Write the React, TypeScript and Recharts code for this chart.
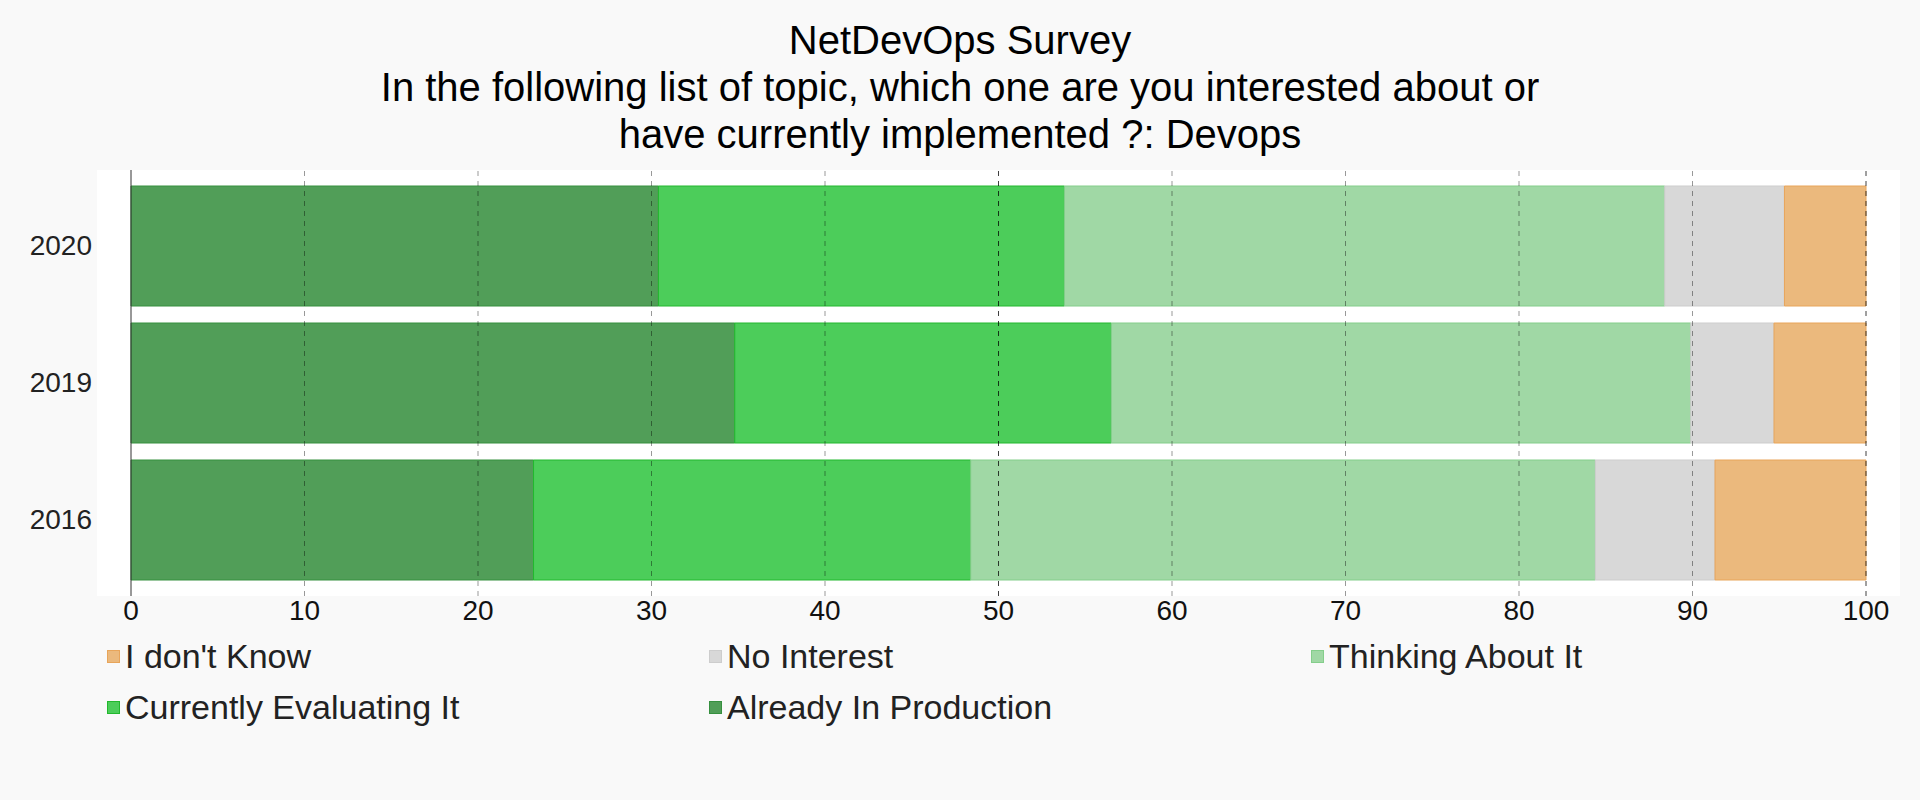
import React from "react";
import { BarChart, Bar, XAxis, YAxis, CartesianGrid, ReferenceLine } from "recharts";

const years = ["2020", "2019", "2016"];
const alreadyInProduction = [30.4, 34.8, 23.2];
const currentlyEvaluating = [23.4, 21.7, 25.2];
const thinkingAboutIt = [34.6, 33.4, 36.0];
const noInterest = [6.9, 4.8, 6.9];
const dontKnow = [4.7, 5.3, 8.7];
const xTicks = [0, 10, 20, 30, 40, 50, 60, 70, 80, 90, 100];

const titleLines = [
  "NetDevOps Survey",
  "In the following list of topic, which one are you interested about or",
  "have currently implemented ?: Devops",
];

// stacking order, left to right
const series = [
  { key: "prod", name: "Already In Production", fill: "#519e58", stroke: "#36903f" },
  { key: "eval", name: "Currently Evaluating It", fill: "#4ccd5a", stroke: "#22b82e" },
  { key: "think", name: "Thinking About It", fill: "#a0d8a5", stroke: "#84ce8b" },
  { key: "none", name: "No Interest", fill: "#d8d8d8", stroke: "#cdcdcd" },
  { key: "dk", name: "I don't Know", fill: "#ebb97d", stroke: "#e8a55a" },
];

const data = years.map((year, i) => ({
  year,
  prod: alreadyInProduction[i],
  eval: currentlyEvaluating[i],
  think: thinkingAboutIt[i],
  none: noInterest[i],
  dk: dontKnow[i],
}));

const font = '"Liberation Sans", Arial, Helvetica, sans-serif';

export default function App() {
  const legendItems = [...series].reverse();
  return (
    <div
      style={{
        position: "fixed",
        left: 0,
        top: 0,
        width: 1920,
        height: 800,
        background: "#f9f9f9",
        fontFamily: font,
      }}
    >
      <div
        style={{
          position: "absolute",
          top: 17,
          left: 0,
          width: 1920,
          textAlign: "center",
          fontSize: 40,
          lineHeight: "47px",
          color: "#000",
        }}
      >
        {titleLines.map((t) => (
          <div key={t}>{t}</div>
        ))}
      </div>

      <div style={{ position: "absolute", left: 0, top: 0 }}>
        <BarChart
          width={1920}
          height={800}
          data={data}
          layout="vertical"
          margin={{ top: 170, right: 20, bottom: 174, left: 0 }}
          barSize={120}
        >
          <CartesianGrid fill="#ffffff" stroke="none" horizontal={false} vertical={false} />
          <XAxis
            type="number"
            domain={[0, 100]}
            ticks={xTicks}
            interval={0}
            height={30}
            axisLine={false}
            tickLine={false}
            tickSize={0}
            tickMargin={4}
            padding={{ left: 34, right: 34 }}
            tick={{ fontSize: 28, fill: "#111", fontFamily: font }}
          />
          <YAxis
            type="category"
            dataKey="year"
            width={97}
            axisLine={false}
            tickLine={false}
            tickSize={0}
            tickMargin={5}
            padding={{ top: 7, bottom: 8 }}
            tick={{ fontSize: 28, fill: "#222", fontFamily: font }}
          />
          {series.map((s) => (
            <Bar
              key={s.key}
              dataKey={s.key}
              name={s.name}
              stackId="a"
              fill={s.fill}
              stroke={s.stroke}
              strokeWidth={1}
              isAnimationActive={false}
            />
          ))}
          {xTicks.slice(1).map((t) => (
            <ReferenceLine
              key={t}
              x={t}
              stroke="#000"
              strokeOpacity={t % 50 === 0 ? 0.75 : 0.4}
              strokeDasharray="5 5"
              strokeWidth={1}
            />
          ))}
          <ReferenceLine x={0} stroke="#333" strokeWidth={1} />
        </BarChart>
      </div>

      <div
        style={{
          position: "absolute",
          left: 107,
          top: 636,
          display: "grid",
          gridTemplateColumns: "602px 602px 602px",
          rowGap: 11,
          fontSize: 34,
          lineHeight: "40px",
          color: "#222",
        }}
      >
        {legendItems.map((s) => (
          <div key={s.key} style={{ display: "flex", alignItems: "center" }}>
            <span
              style={{
                display: "inline-block",
                width: 11,
                height: 11,
                background: s.fill,
                border: `1px solid ${s.stroke}`,
                marginRight: 5,
              }}
            />
            <span>{s.name}</span>
          </div>
        ))}
      </div>
    </div>
  );
}
